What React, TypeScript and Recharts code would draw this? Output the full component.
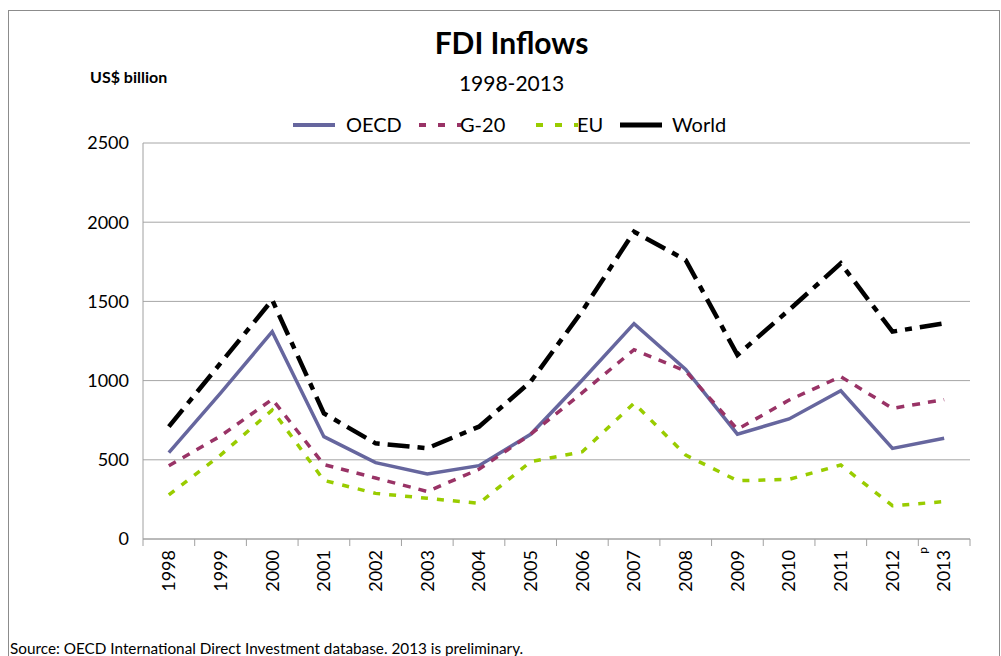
import { CartesianGrid, Line, LineChart, XAxis, YAxis } from "recharts";

const years = [
  "1998", "1999", "2000", "2001", "2002", "2003", "2004", "2005",
  "2006", "2007", "2008", "2009", "2010", "2011", "2012", "2013",
];
const oecd = [545, 921, 1309, 646, 482, 410, 463, 661, 1004, 1360, 1071, 662, 758, 936, 572, 636];
const g20 = [462, 650, 882, 470, 385, 300, 440, 661, 924, 1195, 1060, 692, 877, 1025, 825, 880];
const eu = [278, 530, 814, 370, 288, 257, 225, 488, 551, 857, 530, 368, 377, 467, 210, 236];
const world = [709, 1110, 1509, 793, 604, 573, 709, 993, 1440, 1940, 1761, 1162, 1446, 1740, 1309, 1362];
const yTicks = [0, 500, 1000, 1500, 2000, 2500];

const data = years.map((year, i) => ({
  year,
  oecd: oecd[i],
  g20: g20[i],
  eu: eu[i],
  world: world[i],
}));

const FONT = "Lato, 'Open Sans', sans-serif";
const BAND = (970 - 143) / years.length;

const series = [
  { key: "oecd", name: "OECD", color: "#66669e", width: 3.5, dash: undefined },
  { key: "g20", name: "G-20", color: "#993366", width: 3.5, dash: "8 8" },
  { key: "eu", name: "EU", color: "#99cc00", width: 3.5, dash: "7 9" },
  { key: "world", name: "World", color: "#000000", width: 4.5, dash: "22 8 7 8" },
];

function YearTick({ x, y, payload, index }: any) {
  const last = index === years.length - 1;
  return (
    <g>
      <line x1={x - BAND / 2} x2={x - BAND / 2} y1={y} y2={y + 7} stroke="#a0a0a0" />
      {last && <line x1={x + BAND / 2} x2={x + BAND / 2} y1={y} y2={y + 7} stroke="#a0a0a0" />}
      {last && (
        <text
          transform={`translate(${x - 21}, ${y + 8}) rotate(-90)`}
          textAnchor="end"
          dy="0.35em"
          fontSize={12}
          fontFamily={FONT}
          fill="#000"
        >
          p
        </text>
      )}
      <text
        transform={`translate(${x}, ${y}) rotate(-90)`}
        x={-11}
        dy="0.35em"
        textAnchor="end"
        fontSize={18}
        fontFamily={FONT}
        fill="#000"
      >
        {payload.value}
      </text>
    </g>
  );
}

function LegendRow() {
  const spots = [
    { left: 293, text: 346 },
    { left: 419, text: 460 },
    { left: 536, text: 577 },
    { left: 620, text: 672 },
  ];
  return (
    <svg width={1001} height={30} style={{ position: "absolute", left: 0, top: 110 }}>
      {series.map((s, i) => (
        <g key={s.key}>
          <line
            x1={spots[i].left}
            x2={spots[i].left + 42}
            y1={15}
            y2={15}
            stroke={s.color}
            strokeWidth={s.key === "world" ? 5 : 4}
            strokeDasharray={s.key === "world" || s.key === "oecd" ? undefined : "7 12"}
          />
          <text x={spots[i].text} y={15} dy="0.35em" fontSize={20} fontFamily={FONT} fill="#000">
            {s.name}
          </text>
        </g>
      ))}
    </svg>
  );
}

export default function App() {
  return (
    <div style={{ position: "absolute", left: 0, top: 0, width: 1001, height: 656, background: "#fff", overflow: "hidden", fontFamily: FONT }}>
      <div style={{ position: "absolute", left: 8, top: 10, width: 990, height: 700, border: "1px solid #8c8c8c" }} />
      <div style={{ position: "absolute", left: 0, width: 1001, top: 24, textAlign: "center", paddingLeft: 22, boxSizing: "border-box", fontSize: 30, fontWeight: 700 }}>
        FDI Inflows
      </div>
      <div style={{ position: "absolute", left: 0, width: 1001, top: 70, textAlign: "center", paddingLeft: 22, boxSizing: "border-box", fontSize: 21 }}>
        1998-2013
      </div>
      <div style={{ position: "absolute", left: 90, top: 67, fontSize: 16, fontWeight: 700 }}>US$ billion</div>
      <LegendRow />
      <div style={{ position: "absolute", left: 0, top: 0 }}>
        <LineChart width={1001} height={656} data={data} margin={{ top: 143, right: 31, left: 0, bottom: 0 }}>
          <CartesianGrid horizontal vertical={false} stroke="#a6a6a6" />
          <XAxis
            dataKey="year"
            height={117}
            tickLine={false}
            tickSize={0}
            tickMargin={0}
            padding={{ left: BAND / 2, right: BAND / 2 }}
            axisLine={{ stroke: "#a0a0a0" }}
            interval={0}
            tick={<YearTick />}
          />
          <YAxis
            width={143}
            domain={[0, 2500]}
            ticks={yTicks}
            tickLine={false}
            tickSize={0}
            tickMargin={14}
            axisLine={{ stroke: "#a0a0a0" }}
            tick={{ fontSize: 18, fontFamily: FONT, fill: "#000" }}
          />
          {series.map((s) => (
            <Line
              key={s.key}
              dataKey={s.key}
              name={s.name}
              stroke={s.color}
              strokeWidth={s.width}
              strokeDasharray={s.dash}
              dot={false}
              activeDot={false}
              type="linear"
              isAnimationActive={false}
            />
          ))}
        </LineChart>
      </div>
      <div style={{ position: "absolute", left: 10, top: 639, fontSize: 15.3 }}>
        Source: OECD International Direct Investment database. 2013 is preliminary.
      </div>
    </div>
  );
}
